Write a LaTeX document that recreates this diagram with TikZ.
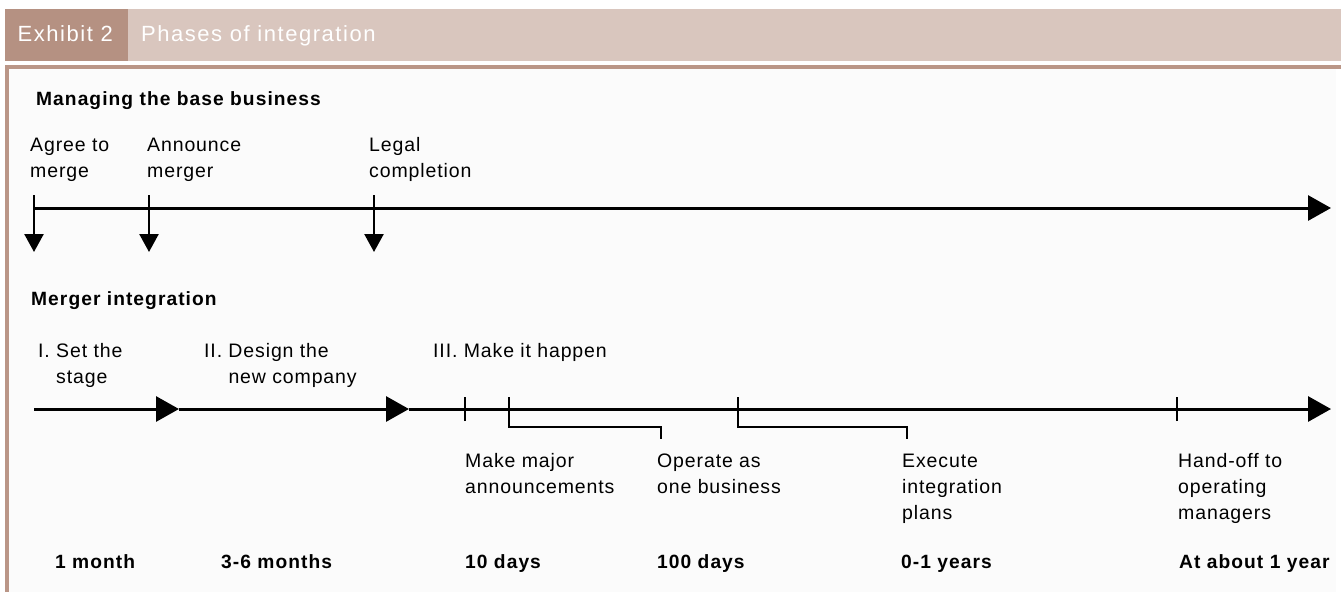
\documentclass[tikz,border=0pt]{standalone}
\usepackage{fontspec}
\setmainfont{Liberation Sans}[LetterSpace=4.5]
\newfontfamily\hdrfont{Liberation Sans}[LetterSpace=7]
\newfontfamily\boldfont{Liberation Sans Bold}[LetterSpace=5.5]
\usetikzlibrary{arrows.meta}
\definecolor{tandark}{RGB}{181,145,130}
\definecolor{tanlight}{RGB}{217,198,190}
\definecolor{tanline}{RGB}{186,150,135}
\begin{document}
\begin{tikzpicture}[x=1pt,y=-1pt,
  lbl/.style={anchor=base west,inner sep=0pt,align=left,font=\fontsize{19.5}{26}\selectfont},
  hd/.style={anchor=base west,inner sep=0pt,font=\fontsize{19.2}{26}\boldfont},
  dur/.style={anchor=base west,inner sep=0pt,font=\fontsize{19.2}{26}\boldfont},
  axis/.style={line width=3pt,-{Triangle[length=23pt,width=25pt]}},
  drop/.style={line width=2.4pt,-{Triangle[length=18pt,width=19pt]}},
  tick/.style={line width=2.4pt},
  bracket/.style={line width=2.4pt}]
\useasboundingbox (0,0) rectangle (1341,592);
% header
\fill[white] (0,0) rectangle (1341,592);
\fill[tandark] (5,8.5) rectangle (128,61);
\fill[tanlight] (128,8.5) rectangle (1341,61);
\fill[tanline] (5,64.5) rectangle (1341,68.5);
\fill[tanline] (5,64.5) rectangle (9,592);
\fill[black!1.5] (9,68.5) rectangle (1336,592);
\node[anchor=base west,inner sep=0pt,text=white,font=\fontsize{22}{26}\hdrfont] (ex) at (17.5,41.5) {Exhibit 2};
\node[anchor=base west,inner sep=0pt,text=white,font=\fontsize{22}{26}\hdrfont] (title) at (141,41.5) {Phases of integration};
% section 1 (multi-line nodes: base = last line)
\node[hd] (h1) at (36,105) {Managing the base business};
\node[lbl] (t1) at (30,177.5) {Agree to\\merge};
\node[lbl] (t2) at (147,177.5) {Announce\\merger};
\node[lbl] (t3) at (369,177.5) {Legal\\completion};
\coordinate (a0) at (34,208);
\coordinate (aend) at (1331,208);
\draw[axis] (a0) -- (aend);
\coordinate (d1s) at (34,195);  \coordinate (d1e) at (34,252);
\coordinate (d2s) at (149,195); \coordinate (d2e) at (149,252);
\coordinate (d3s) at (374,195); \coordinate (d3e) at (374,252);
\draw[drop] (d1s) -- (d1e);
\draw[drop] (d2s) -- (d2e);
\draw[drop] (d3s) -- (d3e);
% section 2
\node[hd] (h2) at (31,305) {Merger integration};
\node[lbl] (p1) at (38,383) {I. Set the\\\phantom{I. }stage};
\node[lbl] (p2) at (204,383) {II. Design the\\\phantom{II. }new company};
\node[lbl] (p3) at (433,357) {III. Make it happen};
\coordinate (b0) at (34,409);
\coordinate (b1) at (179,409);
\coordinate (b2) at (409,409);
\coordinate (bend) at (1331,409);
\draw[axis] (b0) -- (b1);
\draw[axis] (b1) -- (b2);
\draw[axis] (b2) -- (bend);
\coordinate (k1) at (465,409);
\coordinate (k2) at (509,409);
\coordinate (k3) at (738,409);
\coordinate (k4) at (1177,409);
\draw[tick] ([yshift=-12pt]k1) -- ([yshift=12pt]k1);
\draw[tick] ([yshift=-12pt]k4) -- ([yshift=12pt]k4);
\coordinate (e1) at (661,439);
\coordinate (e2) at (907,439);
\draw[bracket] ([yshift=12pt]k2) |- ([yshift=12pt]e1) -- (e1);
\draw[bracket] ([yshift=12pt]k3) |- ([yshift=12pt]e2) -- (e2);
\node[lbl] (s1) at (465,493) {Make major\\announcements};
\node[lbl] (s2) at (657,493) {Operate as\\one business};
\node[lbl] (s3) at (902,519) {Execute\\integration\\plans};
\node[lbl] (s4) at (1178,519) {Hand-off to\\operating\\managers};
% durations
\node[dur] (u1) at (55,568) {1 month};
\node[dur] (u2) at (221,568) {3-6 months};
\node[dur] (u3) at (465,568) {10 days};
\node[dur] (u4) at (657,568) {100 days};
\node[dur] (u5) at (901,568) {0-1 years};
\node[dur] (u6) at (1179,568) {At about 1 year};
\end{tikzpicture}
\end{document}
